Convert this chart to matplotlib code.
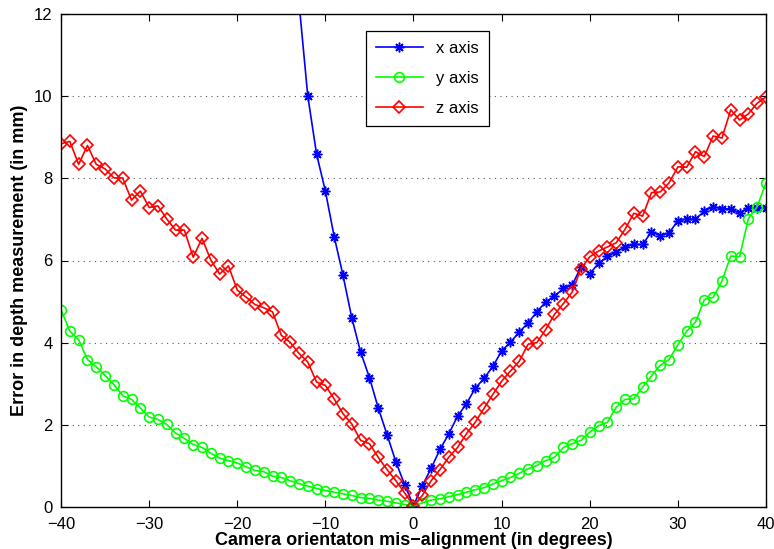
import matplotlib
matplotlib.use("Agg")
import matplotlib.pyplot as plt
import numpy as np

plt.rcParams['font.family'] = ['Liberation Sans', 'DejaVu Sans']

# ---- data ----
angles_x = list(range(-14, 41))
err_x = [14.8, 12.3, 10.01, 8.59, 7.69, 6.58, 5.64, 4.60, 3.77, 3.15, 2.41, 1.76, 1.10, 0.54,
         0.03,
         0.52, 0.94, 1.40, 1.78, 2.21, 2.51, 2.89, 3.13, 3.42, 3.80, 4.01, 4.26, 4.48, 4.75,
         4.99, 5.13, 5.32, 5.40, 5.84, 5.68, 5.93, 6.10, 6.21, 6.33, 6.39, 6.39, 6.70, 6.60,
         6.67, 6.97, 7.01, 7.01, 7.20, 7.31, 7.26, 7.26, 7.15, 7.29, 7.29, 7.28]

angles_yz = list(range(-40, 41))
err_y = [4.80, 4.28, 4.07, 3.59, 3.41, 3.20, 2.98, 2.71, 2.62, 2.41, 2.19, 2.13, 2.01, 1.80,
         1.67, 1.52, 1.45, 1.31, 1.19, 1.13, 1.07, 0.98, 0.89, 0.86, 0.75, 0.72, 0.64, 0.57,
         0.51, 0.45, 0.40, 0.36, 0.32, 0.28, 0.23, 0.21, 0.17, 0.14, 0.10, 0.06, 0.02,
         0.10, 0.17, 0.20, 0.25, 0.30, 0.36, 0.42, 0.47, 0.56, 0.64, 0.72, 0.82, 0.93, 1.01,
         1.13, 1.21, 1.45, 1.54, 1.62, 1.82, 1.98, 2.06, 2.43, 2.62, 2.63, 2.92, 3.19, 3.45,
         3.59, 3.95, 4.28, 4.50, 5.05, 5.10, 5.50, 6.11, 6.09, 7.02, 7.31, 7.89]
err_z = [8.84, 8.90, 8.34, 8.80, 8.34, 8.23, 8.01, 8.01, 7.47, 7.69, 7.29, 7.33, 7.01, 6.74,
         6.74, 6.08, 6.54, 6.01, 5.67, 5.87, 5.28, 5.11, 4.93, 4.85, 4.75, 4.18, 4.01, 3.74,
         3.53, 3.04, 2.96, 2.63, 2.27, 2.02, 1.62, 1.54, 1.21, 0.91, 0.64, 0.34, 0.03,
         0.28, 0.64, 0.91, 1.21, 1.45, 1.78, 2.06, 2.40, 2.74, 3.06, 3.31, 3.55, 3.96, 4.00,
         4.32, 4.69, 4.95, 5.23, 5.80, 6.09, 6.23, 6.33, 6.43, 6.76, 7.15, 7.08, 7.65, 7.67,
         7.89, 8.28, 8.27, 8.65, 8.53, 9.03, 8.98, 9.67, 9.42, 9.57, 9.83, 9.98]

series_labels = ['x axis', 'y axis', 'z axis']
xticks = [-40, -30, -20, -10, 0, 10, 20, 30, 40]
yticks = [0, 2, 4, 6, 8, 10, 12]

# ---- figure ----
fig = plt.figure(figsize=(7.74, 5.49), dpi=100)
ax = fig.add_axes([61/774, 42/549, 705/774, 493/549])

ax.plot(angles_x, err_x, color=(0, 0, 1), lw=1.2, marker=(8, 2, 0), ms=7,
        mec=(0, 0, 1), mew=1.1, label=series_labels[0])
ax.plot(angles_yz, err_y, color=(0, 1, 0), lw=1.2, marker='o', ms=7,
        mec=(0, 1, 0), mfc='none', mew=1.2, label=series_labels[1])
ax.plot(angles_yz, err_z, color=(1, 0, 0), lw=1.2, marker='D', ms=6,
        mec=(1, 0, 0), mfc='none', mew=1.2, label=series_labels[2])

ax.set_xlim(-40, 40)
ax.set_ylim(0, 12)
ax.set_xticks(xticks)
ax.set_yticks(yticks)
ax.tick_params(direction='in', top=True, right=True, labelsize=12, length=5, width=0.8)
ax.tick_params(axis='x', pad=7)
ax.tick_params(axis='y', pad=6)
ax.yaxis.grid(True, linestyle=(0, (1, 4)), color='0.35', linewidth=0.8)
ax.set_axisbelow(True)
for s in ax.spines.values():
    s.set_linewidth(1.0)

ax.set_xlabel('Camera orientaton mis\u2212alignment (in degrees)', fontsize=13,
              fontweight='bold', labelpad=0)
ax.set_ylabel('Error in depth measurement (in mm)', fontsize=13,
              fontweight='bold', labelpad=4)

leg = ax.legend(loc='upper left', bbox_to_anchor=(0.421, 0.982), fancybox=False,
                edgecolor='black', framealpha=1, fontsize=12, handlelength=2.8,
                borderpad=0.6, labelspacing=0.9)
leg.get_frame().set_linewidth(0.9)

fig.savefig('out.png', dpi=100)
